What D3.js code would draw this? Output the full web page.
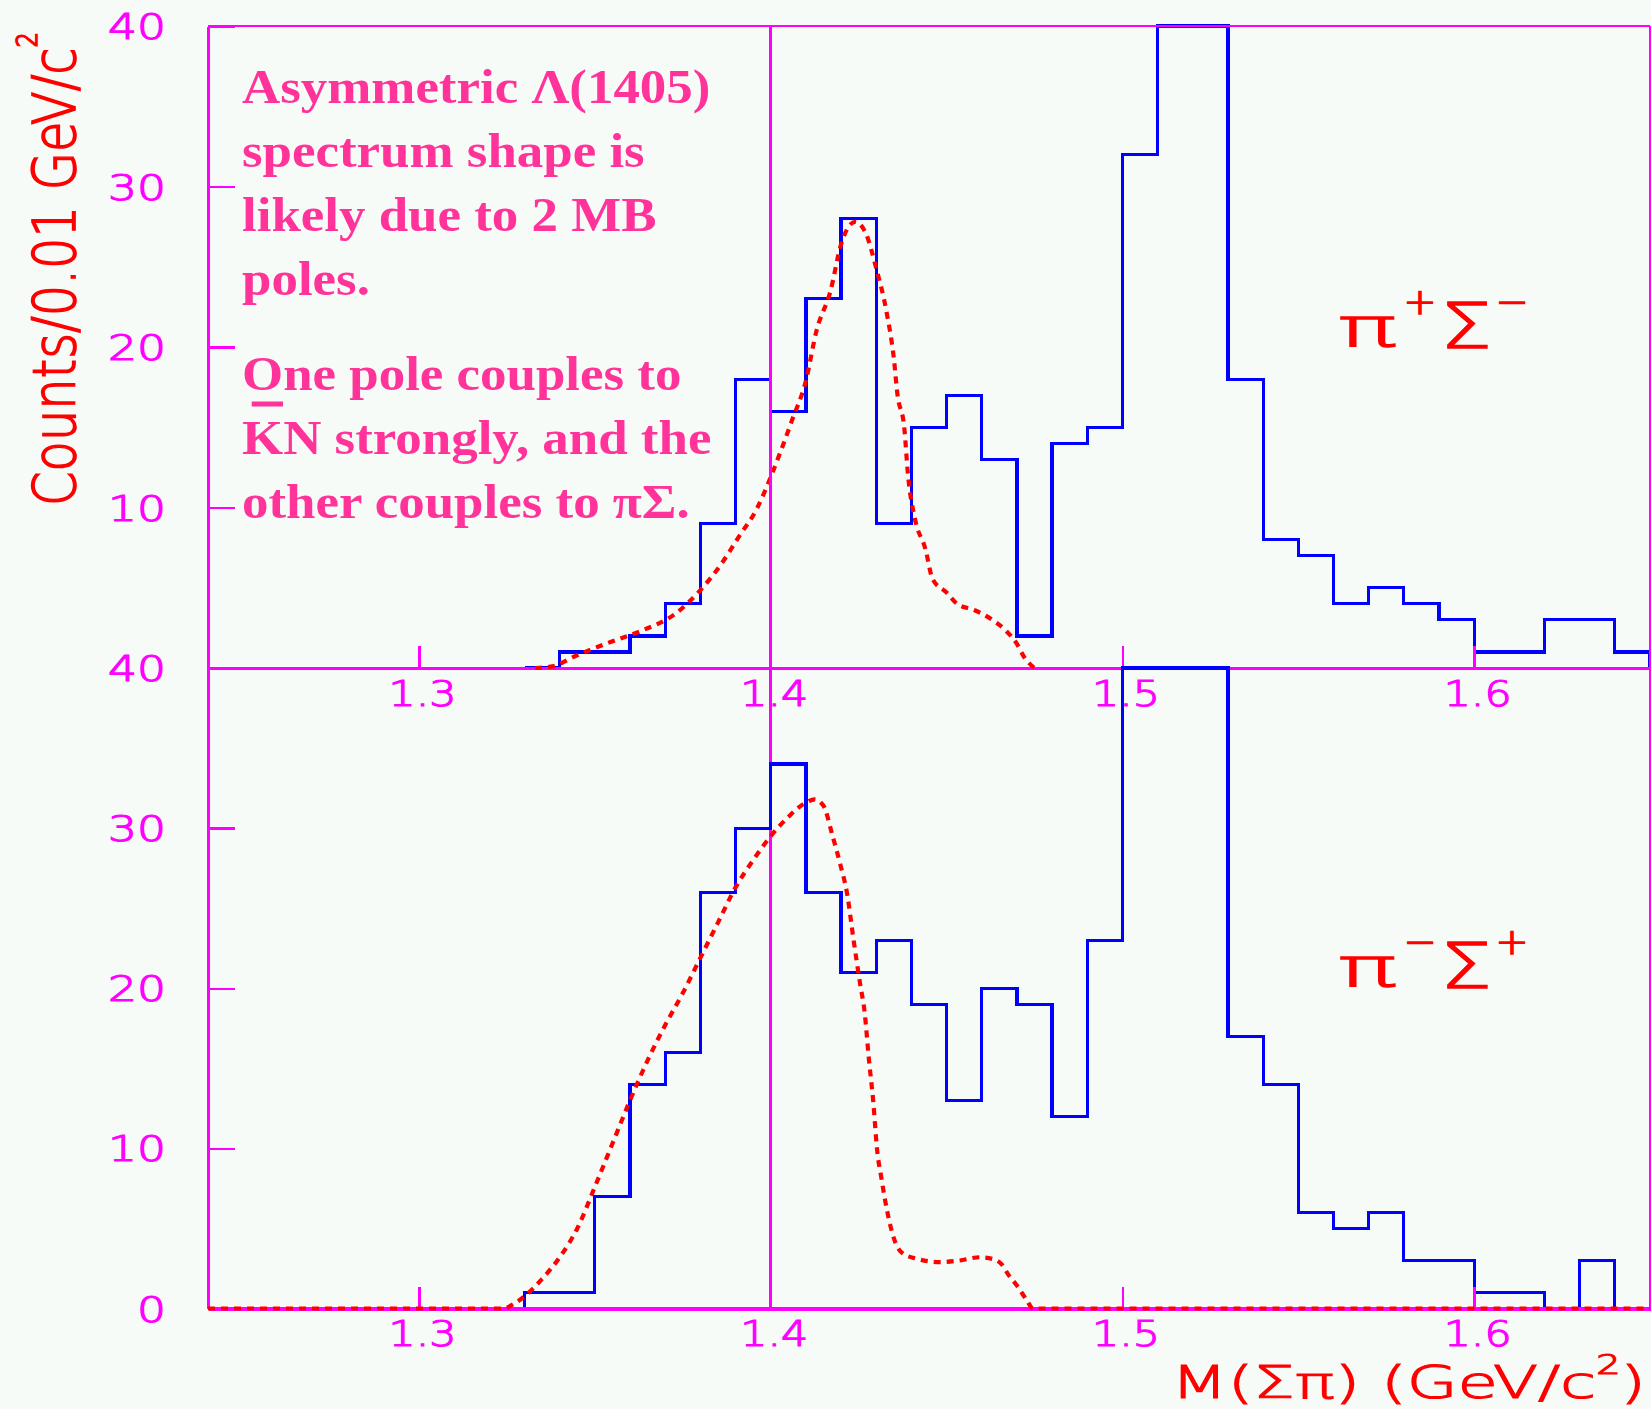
<!DOCTYPE html>
<html><head><meta charset="utf-8">
<script src="https://cdn.jsdelivr.net/npm/d3@7"></script>
<style>html,body{margin:0;padding:0;background:#f7fbf7;} svg{display:block}</style>
</head><body>
<svg id="chart" width="1651" height="1409"></svg>
<script>
// ---------------- data ----------------
const binStarts = [1.33,1.34,1.35,1.36,1.37,1.38,1.39,1.40,1.41,1.42,1.43,1.44,1.45,1.46,1.47,1.48,
                   1.49,1.50,1.51,1.52,1.53,1.54,1.55,1.56,1.57,1.58,1.59,1.60,1.61,1.62,1.63,1.64];
const binWidth = 0.01;
// pi+ Sigma- (upper panel); bins above 40 are off scale
const countsPipSigm = [0,1,1,2,4,9,18,16,23,28,9,15,17,13,2,14,15,32,45,45,18,8,7,4,5,4,3,1,1,3,3,1];
// pi- Sigma+ (lower panel)
const countsPimSigp = [1,1,7,14,16,26,30,34,26,21,23,19,13,20,19,12,23,45,45,45,17,14,6,5,6,3,3,1,1,0,3,0];

// model curves (red dashed)
const fitUpperX = [1.333,1.338,1.344,1.353,1.363,1.373,1.380,1.386,1.391,1.396,1.400,1.403,1.406,1.410,1.413,1.417,1.420,1.424,
                   1.427,1.430,1.433,1.435,1.436,1.438,1.439,1.441,1.444,1.446,1.450,1.453,1.458,1.463,1.467,1.470,1.472,1.475];
const fitUpperY = [0,0.1,0.7,1.5,2.3,3.4,4.85,6.5,8.2,9.9,11.9,13.6,15.4,17.9,21.0,23.5,26.4,27.8,
                   27.1,24.9,22.1,19.3,17.1,14.9,12.1,9.3,7.4,5.55,4.7,4.0,3.6,3.0,2.3,1.5,0.7,0];
const fitLowerX = [1.24,1.324,1.327,1.331,1.335,1.340,1.345,1.350,1.355,1.360,1.365,1.370,1.375,1.380,1.385,1.390,1.395,1.400,
                   1.405,1.410,1.4125,1.415,1.4176,1.4197,1.4218,1.4235,1.4254,1.4267,1.4279,1.4292,1.4302,1.4315,1.433,1.435,
                   1.4372,1.4416,1.448,1.4537,1.4594,1.4638,1.4657,1.4676,1.4701,1.4727,1.4746,1.65];
const fitLowerY = [0,0,0.3,0.95,1.85,3.2,5.0,7.6,10.3,13.0,15.5,17.7,19.7,21.9,24.1,26.3,28.0,29.5,
                   30.7,31.6,31.8,31.4,29.5,27.8,25.8,23.1,20.3,18.5,15.6,12.8,10.0,8.1,6.2,4.4,
                   3.5,3.1,2.9,3.0,3.2,3.05,2.75,2.1,1.4,0.55,0,0];

const xDomain = [1.24, 1.65];
const yDomain = [0, 40];
const xTicks = [1.3, 1.4, 1.5, 1.6];
const yTicksUpper = [10, 20, 30, 40];
const yTicksLower = [0, 10, 20, 30, 40];
const refMass = 1.4;
const noteLines = ["Asymmetric \u039B(1405)", "spectrum shape is", "likely due to 2 MB", "poles.",
                   "One pole couples to", "KN strongly, and the", "other couples to \u03C0\u03A3."];

// ---------------- layout ----------------
const MAG = "#ff00ff", BLUE = "#0000ff", RED = "#ff0000", PINK = "#ff3399";
const L = 208, R = 1650, TOP = 26, MID = 668, BOT = 1308.5;
const svg = d3.select("#chart");
svg.append("rect").attr("width",1651).attr("height",1409).attr("fill","#f7fbf7");

const x = d3.scaleLinear().domain(xDomain).range([L, R]);
const yU = d3.scaleLinear().domain(yDomain).range([MID, TOP]).clamp(true);
const yL = d3.scaleLinear().domain(yDomain).range([BOT, MID]).clamp(true);

function histPoints(counts){
  const pts = [[binStarts[0], 0]];
  counts.forEach((c,i)=>pts.push([binStarts[i], c]));
  const last = binStarts[binStarts.length-1] + binWidth;
  pts.push([last, counts[counts.length-1]]);
  pts.push([last, 0]);
  return pts;
}
function drawHist(counts, y){
  const line = d3.line().x(d=>x(d[0])).y(d=>y(d[1])).curve(d3.curveStepAfter);
  svg.append("path").datum(histPoints(counts)).attr("d", line)
    .attr("fill","none").attr("stroke",BLUE).attr("stroke-width",3.2)
    .attr("shape-rendering","crispEdges");
}
function drawCurve(xs, ys, y){
  const line = d3.line().x(d=>x(d[0])).y(d=>y(d[1])).curve(d3.curveMonotoneX);
  svg.append("path").datum(xs.map((v,i)=>[v, ys[i]])).attr("d", line)
    .attr("fill","none").attr("stroke",RED).attr("stroke-width",4.2)
    .attr("stroke-dasharray","7,6");
}
function styleAxis(g, domainW){
  g.select(".domain").attr("stroke",MAG).attr("stroke-width",domainW).attr("shape-rendering","crispEdges");
  g.selectAll(".tick line").attr("stroke",MAG).attr("stroke-width",2.5).attr("shape-rendering","crispEdges");
  g.selectAll(".tick text").attr("fill",MAG).style("font-family","DejaVu Sans").style("font-size","35px")
    .style("font-weight","200").attr("stroke",MAG).attr("stroke-width",1.2)
    .attr("lengthAdjust","spacingAndGlyphs");
}
function drawXAxis(yPos){
  const g = svg.append("g").attr("transform",`translate(0,${yPos})`)
    .call(d3.axisBottom(x).tickValues(xTicks).tickSizeInner(-22).tickSizeOuter(0).tickPadding(13).tickFormat(d3.format(".1f")));
  styleAxis(g, 3.2);
  g.selectAll(".tick text").attr("textLength",68).attr("dx",3);
}
function drawYAxis(y, ticks){
  const g = svg.append("g").attr("transform",`translate(${L},0)`)
    .call(d3.axisLeft(y).tickValues(ticks).tickSizeInner(-27).tickSizeOuter(0).tickPadding(42));
  styleAxis(g, 3.6);
  g.selectAll(".tick text").attr("dy","0.36em").attr("textLength",d=>String(d).length*29);
}

// upper panel
drawHist(countsPipSigm, yU);
drawXAxis(MID);
drawYAxis(yU, yTicksUpper);
drawCurve(fitUpperX, fitUpperY, yU);

// frame + reference line
svg.append("line").attr("x1",L).attr("x2",R).attr("y1",TOP).attr("y2",TOP)
  .attr("stroke",MAG).attr("stroke-width",2).attr("shape-rendering","crispEdges");
svg.append("line").attr("x1",R).attr("x2",R).attr("y1",TOP).attr("y2",BOT)
  .attr("stroke",MAG).attr("stroke-width",1.5).attr("shape-rendering","crispEdges");
svg.append("line").attr("x1",x(refMass)).attr("x2",x(refMass)).attr("y1",TOP).attr("y2",BOT)
  .attr("stroke",MAG).attr("stroke-width",2.5).attr("shape-rendering","crispEdges");

// lower panel
drawHist(countsPimSigp, yL);
drawXAxis(BOT);
drawYAxis(yL, yTicksLower);
drawCurve(fitLowerX, fitLowerY, yL);

// axis titles
const yt = svg.append("text").attr("transform","translate(75,506) rotate(-90) scale(1,1.3)")
  .attr("fill",RED).attr("stroke",RED).attr("stroke-width",1.3)
  .style("font-family","DejaVu Sans").style("font-size","45px").style("font-weight","200")
  .attr("textLength",474).attr("lengthAdjust","spacingAndGlyphs");
yt.append("tspan").text("Counts/0.01 GeV/c");
yt.append("tspan").attr("dy",-29).style("font-size","22px").text("2");

const xt = svg.append("text").attr("x",1171).attr("y",1398)
  .attr("fill",RED).attr("stroke",RED).attr("stroke-width",1.2)
  .style("font-family","DejaVu Sans").style("font-size","45px").style("font-weight","200")
  .attr("textLength",475).attr("lengthAdjust","spacingAndGlyphs");
xt.append("tspan").text("M(\u03A3\u03C0) (GeV/c");
xt.append("tspan").attr("dy",-24).style("font-size","26px").text("2");
xt.append("tspan").attr("dy",24).text(")");

// channel labels
function channel(yBase, supLeft, supRight){
  const g = svg.append("g").attr("fill",RED).attr("stroke",RED).attr("stroke-width",1.5)
    .style("font-family","DejaVu Sans").style("font-weight","200");
  g.append("text").attr("x",1338).attr("y",yBase-1).style("font-size","53px")
    .attr("textLength",59).attr("lengthAdjust","spacingAndGlyphs").text("\u03C0");
  g.append("text").attr("x",1420).attr("y",yBase-33).attr("text-anchor","middle").style("font-size","36px")
    .attr("textLength",33).attr("lengthAdjust","spacingAndGlyphs").text(supLeft);
  g.append("text").attr("x",1440).attr("y",yBase+1).style("font-size","63px")
    .attr("textLength",52).attr("lengthAdjust","spacingAndGlyphs").text("\u03A3");
  g.append("text").attr("x",1512).attr("y",yBase-33).attr("text-anchor","middle").style("font-size","36px")
    .attr("textLength",33).attr("lengthAdjust","spacingAndGlyphs").text(supRight);
}
channel(347, "+", "\u2212");
channel(987, "\u2212", "+");

// annotation
const baselines = [103,167,231,295,390,454,518];
const note = svg.append("g").attr("transform","translate(242,0) scale(1.08,1)")
  .attr("fill",PINK).style("font-family","Liberation Serif, Times New Roman, serif")
  .style("font-weight","bold").style("font-size","49px");
note.selectAll("text").data(noteLines).join("text")
  .attr("x",0).attr("y",(d,i)=>baselines[i]).text(d=>d);
// overbar of K (anti-kaon)
note.append("rect").attr("x",9).attr("y",401.5).attr("width",29).attr("height",5);
</script>
</body></html>
